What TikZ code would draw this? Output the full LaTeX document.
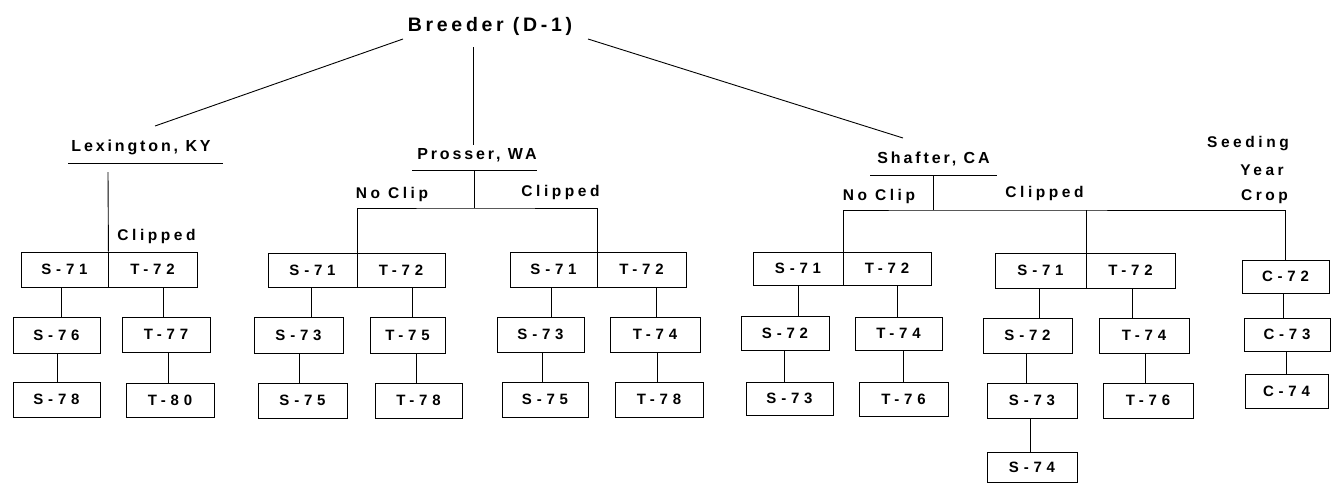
\documentclass[tikz,border=0pt]{standalone}
\usepackage{fontspec}
\setmainfont{Liberation Sans}
\newfontfamily\titlefam{Liberation Sans}[LetterSpace=19]
\newfontfamily\placefam{Liberation Sans}[LetterSpace=18]
\newfontfamily\branchfam{Liberation Sans}[LetterSpace=23]
\newfontfamily\cellfam{Liberation Sans}[LetterSpace=32]

% a box given by its corners (x1,y1)-(x2,y2), y measured downwards
\newcommand\cellat[6]{%
  \node[cell, minimum width={#4-#2}, minimum height={#5-#3}]
    (#1) at ({(#2+#4)/2},{(#3+#5)/2}) {#6};}
% a vertical link from the bottom of one box to the top of the next at x
\newcommand\kidlink[3]{\draw[link] (#1.south -| #3,0) -- (#2.north -| #3,0);}

\begin{document}
\begin{tikzpicture}[x=1pt,y=-1pt,
  cell/.style={draw, line width=0.9pt, inner sep=0pt,
    font=\cellfam\bfseries\fontsize{15}{18}\selectfont},
  link/.style={line width=0.9pt},
  title/.style={anchor=base, inner sep=0pt,
    font=\titlefam\bfseries\fontsize{19.5}{22}\selectfont},
  place/.style={anchor=base, inner sep=0pt,
    font=\placefam\bfseries\fontsize{16}{19}\selectfont},
  branch/.style={anchor=base, inner sep=0pt,
    font=\branchfam\bfseries\fontsize{15.5}{18}\selectfont}]
\useasboundingbox (0,0) rectangle (1333,483);

% ---- root and the three locations ----
\node[title] (brd) at (490,31) {Breeder (D-1)};
\node[place] (lex) at (141,151) {Lexington, KY};
\node[place] (pro) at (477,159) {Prosser, WA};
\node[place] (sha) at (933.5,163) {Shafter, CA};

\coordinate (brdL) at (403,39);
\coordinate (brdM) at (473,47);
\coordinate (brdR) at (588,39);
\coordinate (lexTop) at (155,126);
\coordinate (proTop) at (473,145);
\coordinate (shaTop) at (903,138);
\draw[link] (brdL) -- (lexTop);
\draw[link] (brdM) -- (proTop);
\draw[link] (brdR) -- (shaTop);

% underlines below the location names
\coordinate (lexUL) at (68,163);   \coordinate (lexUR) at (223,163);
\coordinate (proUL) at (412,170);  \coordinate (proUR) at (537,170);
\coordinate (shaUL) at (870,175);  \coordinate (shaUR) at (997,175);
\draw[link] (lexUL) -- (lexUR);
\draw[link] (proUL) -- (proUR);
\draw[link] (shaUL) -- (shaUR);

% ---- branch labels ----
\node[branch] (lexClip) at (156.5,240) {Clipped};
\node[branch] (proNo)   at (392,198)   {No Clip};
\node[branch] (proClip) at (560.5,196) {Clipped};
\node[branch] (shaNo)   at (879,200)   {No Clip};
\node[branch] (shaClip) at (1044.5,197) {Clipped};
\node[branch] (seedA)   at (1248,147)  {Seeding};
\node[branch] (seedB)   at (1262,175)  {Year};
\node[branch] (seedC)   at (1264.5,200) {Crop};

% ---- Lexington ----
\cellat{lxS}{21}{252}{108}{287}{S-71}
\cellat{lxT}{108}{252}{197}{287}{T-72}
\cellat{lxS2}{13}{317}{100}{353}{S-76}
\cellat{lxT2}{122}{317}{210}{352}{T-77}
\cellat{lxS3}{13}{382}{100}{417}{S-78}
\cellat{lxT3}{126}{383}{214}{417}{T-80}
\coordinate (lexStem) at (108,172);
\draw[link] (lexStem) -- (lxS.north east);
\kidlink{lxS}{lxS2}{61}
\kidlink{lxT}{lxT2}{163}
\kidlink{lxS2}{lxS3}{57}
\kidlink{lxT2}{lxT3}{168}

% ---- Prosser, no clip ----
\cellat{paS}{268}{253}{357}{287}{S-71}
\cellat{paT}{357}{253}{445}{287}{T-72}
\cellat{paS2}{254}{317}{343}{353}{S-73}
\cellat{paT2}{370}{317}{445}{353}{T-75}
\cellat{paS3}{258}{383}{347}{418}{S-75}
\cellat{paT3}{375}{383}{462}{418}{T-78}
\kidlink{paS}{paS2}{311}
\kidlink{paT}{paT2}{412}
\kidlink{paS2}{paS3}{299}
\kidlink{paT2}{paT3}{416}

% ---- Prosser, clipped ----
\cellat{pbS}{510}{252}{597}{287}{S-71}
\cellat{pbT}{597}{252}{686}{287}{T-72}
\cellat{pbS2}{497}{317}{584}{352}{S-73}
\cellat{pbT2}{610}{317}{700}{352}{T-74}
\cellat{pbS3}{502}{382}{588}{417}{S-75}
\cellat{pbT3}{615}{382}{703}{417}{T-78}
\kidlink{pbS}{pbS2}{551}
\kidlink{pbT}{pbT2}{656}
\kidlink{pbS2}{pbS3}{542}
\kidlink{pbT2}{pbT3}{657}

% Prosser fork
\coordinate (proStem) at (474,170);
\coordinate (proFork) at (474,208);
\draw[link] (proStem) -- (proFork);
\draw[link] (paS.north east) |- (proFork) -| (pbS.north east);

% ---- Shafter, no clip ----
\cellat{saS}{753}{252}{843}{285}{S-71}
\cellat{saT}{843}{252}{931}{285}{T-72}
\cellat{saS2}{741}{316}{829}{350}{S-72}
\cellat{saT2}{855}{317}{942}{350}{T-74}
\cellat{saS3}{746}{382}{833}{415}{S-73}
\cellat{saT3}{859}{382}{948}{416}{T-76}
\kidlink{saS}{saS2}{798}
\kidlink{saT}{saT2}{897}
\kidlink{saS2}{saS3}{784}
\kidlink{saT2}{saT3}{903}

% ---- Shafter, clipped ----
\cellat{sbS}{995}{253}{1086}{288}{S-71}
\cellat{sbT}{1086}{253}{1175}{288}{T-72}
\cellat{sbS2}{983}{318}{1072}{353}{S-72}
\cellat{sbT2}{1099}{318}{1189}{353}{T-74}
\cellat{sbS3}{987}{383}{1077}{418}{S-73}
\cellat{sbT3}{1103}{383}{1193}{418}{T-76}
\cellat{sbS4}{987}{452}{1077}{482}{S-74}
\kidlink{sbS}{sbS2}{1039}
\kidlink{sbT}{sbT2}{1132}
\kidlink{sbS2}{sbS3}{1026}
\kidlink{sbT2}{sbT3}{1145}
\kidlink{sbS3}{sbS4}{1030}

% ---- Shafter, seeding year crop ----
\cellat{scC}{1242}{260}{1329}{293}{C-72}
\cellat{scC2}{1244}{318}{1330}{351}{C-73}
\cellat{scC3}{1245}{374}{1328}{408}{C-74}
\kidlink{scC}{scC2}{1283}
\kidlink{scC2}{scC3}{1286}

% Shafter fork
\coordinate (shaStem) at (933,175);
\coordinate (shaFork) at (933,210);
\draw[link] (shaStem) -- (shaFork);
\draw[link] (saS.north east) |- (shaFork) -| (scC.north -| 1285,0);
\draw[link] (sbS.north east) -- (sbS.north east |- shaFork);
\end{tikzpicture}
\end{document}
